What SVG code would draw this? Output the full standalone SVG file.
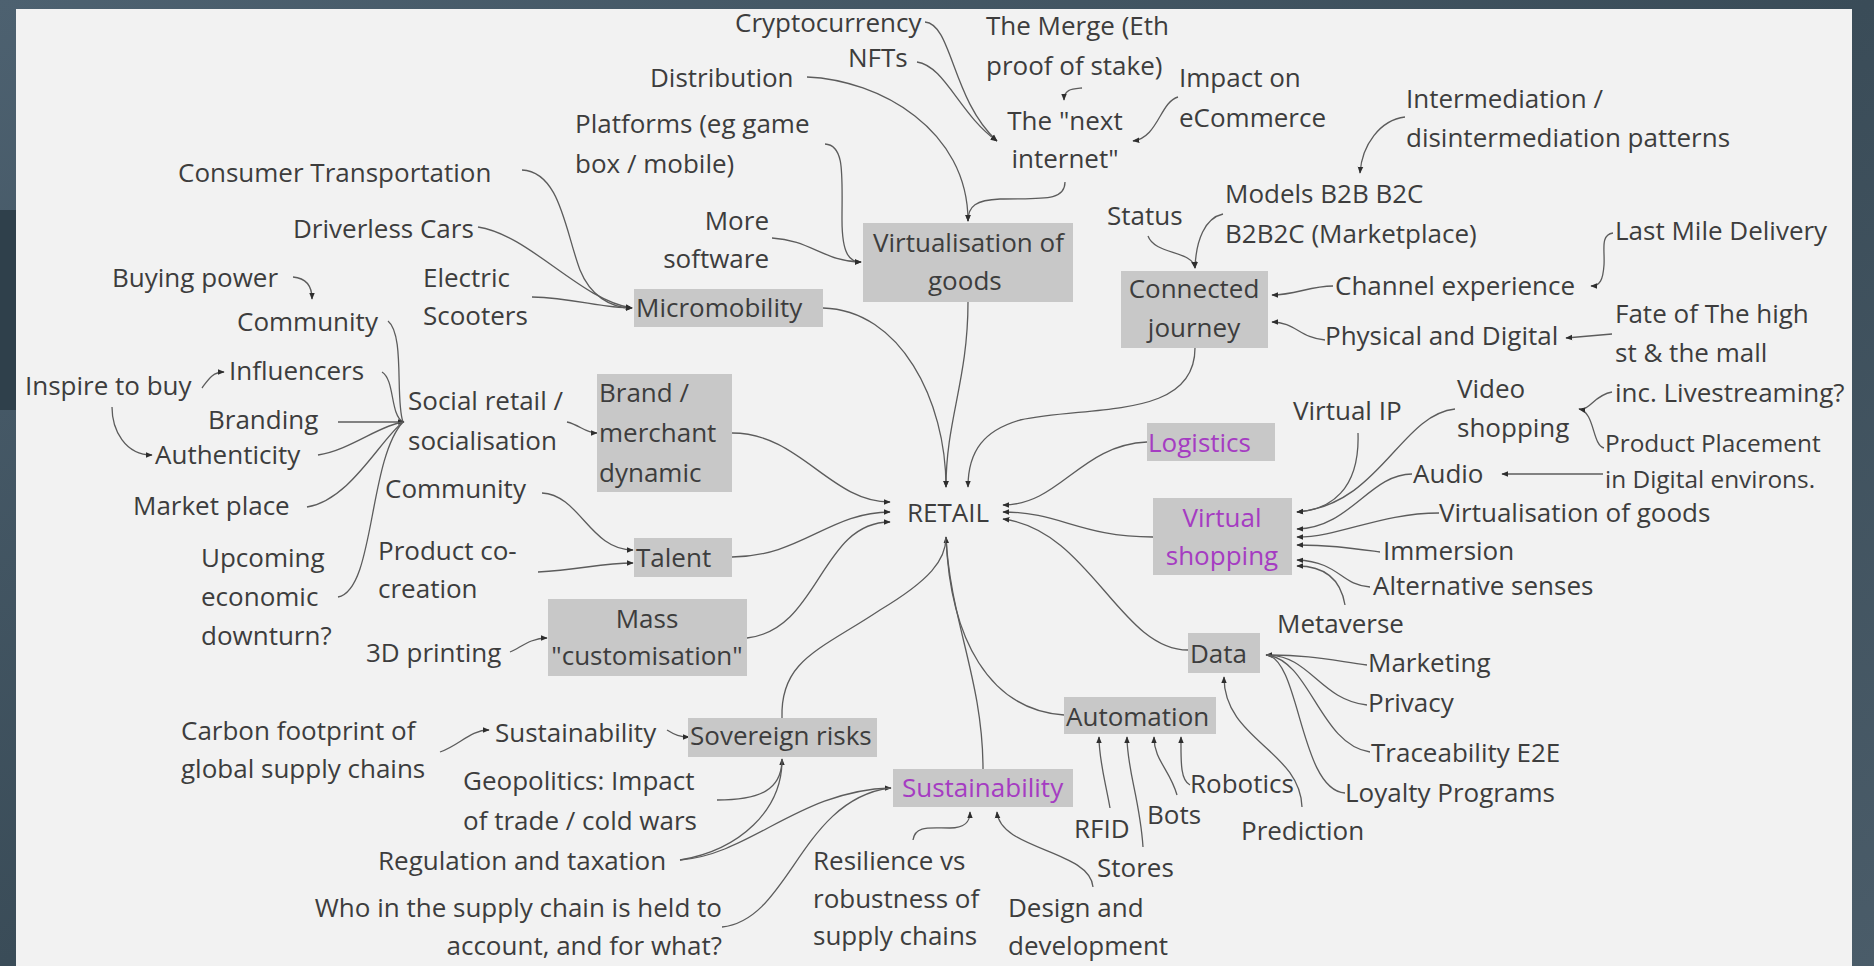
<svg xmlns="http://www.w3.org/2000/svg" width="1874" height="966" viewBox="0 0 1874 966">
<defs>
<linearGradient id="bg" x1="0" y1="0" x2="1" y2="1">
<stop offset="0" stop-color="#4d6170"/><stop offset="0.5" stop-color="#3a4c58"/><stop offset="1" stop-color="#4a5c69"/>
</linearGradient>
<marker id="a" viewBox="0 0 10 10" refX="9" refY="5" markerWidth="7" markerHeight="7" orient="auto" markerUnits="userSpaceOnUse"><path d="M0,1 L10,5 L0,9z" fill="#2e2e2e"/></marker>
</defs>
<style>
text{font-family:"Open Sans","Noto Sans","Liberation Sans",sans-serif;font-size:26px;fill:#3d3d3d}
.p{fill:#a53cc2}
.b{fill:#c8c8c8}
.m{text-anchor:middle}
.e{text-anchor:end}
.s{font-size:24.4px}
#connectors path{fill:none;stroke:#5c5c5c;stroke-width:1.3}
.ar{marker-end:url(#a)}
</style>
<rect width="1874" height="966" fill="url(#bg)"/>
<rect x="0" y="210" width="16" height="200" fill="#2f404b"/>
<rect x="16" y="9" width="1836" height="957" fill="#f2f2f2"/>

<g id="connectors">
<path class="ar" d="M925,22 C952,24 952,100 997,141"/>
<path class="ar" d="M917,62 C945,66 960,115 997,141"/>
<path class="ar" d="M1082,88 C1072,89 1064,89 1064,100"/>
<path class="ar" d="M1178,97 C1160,102 1158,138 1133,141"/>
<path class="ar" d="M1065,182 C1065,202 1040,198 1000,199 C976,200 968,206 968,221"/>
<path class="ar" d="M807,77 C880,80 968,130 968,221"/>
<path class="ar" d="M825,144 C845,145 842,175 842,220 C842,255 850,262 861,262"/>
<path class="ar" d="M772,238 C810,240 825,262 861,262"/>
<path class="ar" d="M522,170 C560,172 565,230 580,270 C590,295 610,308 632,308"/>
<path class="ar" d="M478,227 C530,235 580,300 632,308"/>
<path class="ar" d="M532,297 C575,298 600,308 632,308"/>
<path class="ar" d="M823,308 C900,310 946,400 946,487"/>
<path class="ar" d="M968,302 C968,380 946,420 946,487"/>
<path class="ar" d="M1148,236 C1155,255 1192,250 1195,268"/>
<path class="ar" d="M1223,214 C1205,218 1196,240 1195,268"/>
<path class="ar" d="M1405,117 C1380,120 1362,145 1360,173"/>
<path class="ar" d="M1333,286 C1310,286 1295,295 1272,295"/>
<path class="ar" d="M1613,233 C1600,235 1605,250 1604,265 C1603,280 1600,286 1591,286"/>
<path class="ar" d="M1325,340 C1300,338 1295,322 1272,322"/>
<path class="ar" d="M1612,334 L1566,338"/>
<path class="ar" d="M1195,348 C1195,420 1090,405 1020,420 C985,430 968,450 968,487"/>
<path class="ar" d="M293,277 C305,278 312,285 312,299"/>
<path class="ar" d="M202,388 C208,380 212,372 224,372"/>
<path class="ar" d="M112,407 C112,430 125,455 152,455"/>
<path d="M388,321 C405,335 395,400 403,422"/>
<path d="M382,372 C395,380 390,415 403,422"/>
<path class="ar" d="M338,422 L404,422"/>
<path d="M318,455 C350,450 380,425 403,422"/>
<path d="M307,507 C350,500 380,440 403,422"/>
<path d="M338,597 C375,590 368,460 403,422"/>
<path class="ar" d="M567,422 C580,425 585,433 597,433"/>
<path class="ar" d="M732,433 C800,433 830,502 890,502"/>
<path class="ar" d="M542,493 C580,495 590,550 633,550"/>
<path class="ar" d="M538,572 C580,570 600,563 633,563"/>
<path class="ar" d="M732,557 C800,557 830,512 890,512"/>
<path class="ar" d="M747,638 C820,630 820,522 890,522"/>
<path class="ar" d="M510,652 C520,648 530,638 547,638"/>
<path class="ar" d="M1147,442 C1080,445 1060,505 1003,505"/>
<path class="ar" d="M1153,537 C1080,537 1060,512 1003,512"/>
<path class="ar" d="M1188,650 C1120,650 1090,530 1003,519"/>
<path class="ar" d="M1358,433 C1360,490 1330,510 1297,512"/>
<path class="ar" d="M1455,409 C1400,415 1380,505 1297,512"/>
<path class="ar" d="M1412,474 C1370,474 1350,528 1297,529"/>
<path class="ar" d="M1439,513 C1380,513 1340,537 1297,537"/>
<path class="ar" d="M1380,552 C1350,548 1330,545 1297,545"/>
<path class="ar" d="M1370,587 C1340,585 1340,562 1297,560"/>
<path class="ar" d="M1345,605 C1340,575 1320,566 1297,566"/>
<path d="M1612,392 C1595,395 1590,409 1582,409"/>
<path class="ar" d="M1604,448 C1592,445 1595,412 1579,409"/>
<path class="ar" d="M1603,474 L1502,474"/>
<path class="ar" d="M1367,665 C1330,660 1310,655 1266,655"/>
<path d="M1367,705 C1320,700 1310,655 1267,655"/>
<path d="M1370,752 C1320,745 1310,660 1267,655"/>
<path d="M1345,793 C1300,790 1300,660 1267,655"/>
<path class="ar" d="M1302,807 C1300,750 1224,740 1224,677"/>
<path class="ar" d="M1190,785 C1180,780 1181,760 1181,737"/>
<path class="ar" d="M1177,795 C1170,770 1154,760 1154,737"/>
<path class="ar" d="M1110,808 C1105,780 1099,760 1099,737"/>
<path class="ar" d="M1143,847 C1140,800 1127,770 1127,737"/>
<path d="M1064,715 C990,710 950,640 946,537"/>
<path class="ar" d="M983,769 C983,680 950,620 946,537"/>
<path d="M782,718 C780,660 820,650 880,610 C930,580 946,560 946,537"/>
<path class="ar" d="M440,752 C460,745 470,730 489,730"/>
<path class="ar" d="M667,730 C675,735 680,737 689,737"/>
<path class="ar" d="M717,800 C760,800 782,790 782,759"/>
<path d="M680,860 C740,850 782,810 782,760"/>
<path class="ar" d="M680,860 C750,855 800,790 891,788"/>
<path d="M722,927 C790,920 800,800 890,788"/>
<path class="ar" d="M913,840 C915,825 930,828 950,828 C965,828 970,822 970,812"/>
<path class="ar" d="M1093,887 C1090,850 1000,850 997,812"/>
</g>

<g id="n-crypto"><text x="735" y="32">Cryptocurrency</text></g>
<g id="n-nfts"><text x="848" y="67">NFTs</text></g>
<g id="n-distribution"><text x="650" y="87">Distribution</text></g>
<g id="n-merge"><text x="986" y="35">The Merge (Eth</text><text x="986" y="75">proof of stake)</text></g>
<g id="n-impact"><text x="1179" y="87">Impact on</text><text x="1179" y="127">eCommerce</text></g>
<g id="n-nextinternet"><text class="m" x="1065" y="130">The "next</text><text class="m" x="1065" y="168">internet"</text></g>
<g id="n-intermediation"><text x="1406" y="108">Intermediation /</text><text x="1406" y="147">disintermediation patterns</text></g>
<g id="n-platforms"><text x="575" y="133">Platforms (eg game</text><text x="575" y="173">box / mobile)</text></g>
<g id="n-consumer"><text x="178" y="182">Consumer Transportation</text></g>
<g id="n-models"><text x="1225" y="203">Models B2B B2C</text><text x="1225" y="243">B2B2C (Marketplace)</text></g>
<g id="n-status"><text x="1107" y="225">Status</text></g>
<g id="n-driverless"><text x="293" y="238">Driverless Cars</text></g>
<g id="n-more"><text class="e" x="769" y="230">More</text><text class="e" x="769" y="268">software</text></g>
<g id="n-virtualisation"><rect class="b" x="863" y="223" width="210" height="79"/><text x="873" y="252">Virtualisation of</text><text x="928" y="290">goods</text></g>
<g id="n-micromobility"><rect class="b" x="634" y="289" width="189" height="38"/><text x="636" y="317">Micromobility</text></g>
<g id="n-buying"><text x="112" y="287">Buying power</text></g>
<g id="n-electric"><text x="423" y="287">Electric</text><text x="423" y="325">Scooters</text></g>
<g id="n-connected"><rect class="b" x="1121" y="271" width="147" height="77"/><text class="m" x="1194" y="298">Connected</text><text class="m" x="1194" y="337">journey</text></g>
<g id="n-channel"><text x="1335" y="295">Channel experience</text></g>
<g id="n-lastmile"><text x="1615" y="240">Last Mile Delivery</text></g>
<g id="n-physical"><text x="1325" y="345">Physical and Digital</text></g>
<g id="n-fate"><text x="1615" y="323">Fate of The high</text><text x="1615" y="362">st &amp; the mall</text><text x="1615" y="402">inc. Livestreaming?</text></g>
<g id="n-community1"><text x="237" y="331">Community</text></g>
<g id="n-inspire"><text x="25" y="395">Inspire to buy</text></g>
<g id="n-influencers"><text x="229" y="380">Influencers</text></g>
<g id="n-branding"><text x="208" y="429">Branding</text></g>
<g id="n-authenticity"><text x="155" y="464">Authenticity</text></g>
<g id="n-marketplace"><text x="133" y="515">Market place</text></g>
<g id="n-upcoming"><text x="201" y="567">Upcoming</text><text x="201" y="606">economic</text><text x="201" y="645">downturn?</text></g>
<g id="n-social"><text x="408" y="410">Social retail /</text><text x="408" y="450">socialisation</text></g>
<g id="n-brand"><rect class="b" x="597" y="374" width="135" height="118"/><text x="599" y="402">Brand /</text><text x="599" y="442">merchant</text><text x="599" y="482">dynamic</text></g>
<g id="n-community2"><text x="385" y="498">Community</text></g>
<g id="n-product"><text x="378" y="560">Product co-</text><text x="378" y="598">creation</text></g>
<g id="n-talent"><rect class="b" x="634" y="538" width="98" height="39"/><text x="636" y="567">Talent</text></g>
<g id="n-mass"><rect class="b" x="548" y="599" width="199" height="77"/><text class="m" x="647" y="628">Mass</text><text class="m" x="647" y="665">"customisation"</text></g>
<g id="n-3d"><text x="366" y="662">3D printing</text></g>
<g id="n-retail"><text x="907" y="522">RETAIL</text></g>
<g id="n-logistics"><rect class="b" x="1147" y="423" width="128" height="38"/><text class="p" x="1148" y="452">Logistics</text></g>
<g id="n-virtualip"><text x="1293" y="420">Virtual IP</text></g>
<g id="n-video"><text x="1457" y="398">Video</text><text x="1457" y="437">shopping</text></g>
<g id="n-placement"><text class="s" x="1605" y="452">Product Placement</text><text class="s" x="1605" y="488">in Digital environs.</text></g>
<g id="n-audio"><text x="1413" y="483">Audio</text></g>
<g id="n-virtualshopping"><rect class="b" x="1153" y="498" width="139" height="77"/><text class="m p" x="1222" y="527">Virtual</text><text class="m p" x="1222" y="565">shopping</text></g>
<g id="n-virtgoods"><text x="1439" y="522">Virtualisation of goods</text></g>
<g id="n-immersion"><text x="1383" y="560">Immersion</text></g>
<g id="n-senses"><text x="1373" y="595">Alternative senses</text></g>
<g id="n-metaverse"><text x="1277" y="633">Metaverse</text></g>
<g id="n-data"><rect class="b" x="1188" y="633" width="72" height="40"/><text x="1190" y="663">Data</text></g>
<g id="n-marketing"><text x="1368" y="672">Marketing</text></g>
<g id="n-privacy"><text x="1368" y="712">Privacy</text></g>
<g id="n-traceability"><text x="1371" y="762">Traceability E2E</text></g>
<g id="n-loyalty"><text x="1345" y="802">Loyalty Programs</text></g>
<g id="n-automation"><rect class="b" x="1064" y="697" width="152" height="37"/><text x="1066" y="726">Automation</text></g>
<g id="n-robotics"><text x="1190" y="793">Robotics</text></g>
<g id="n-bots"><text x="1147" y="824">Bots</text></g>
<g id="n-rfid"><text x="1074" y="838">RFID</text></g>
<g id="n-stores"><text x="1097" y="877">Stores</text></g>
<g id="n-prediction"><text x="1241" y="840">Prediction</text></g>
<g id="n-sovereign"><rect class="b" x="688" y="718" width="189" height="39"/><text x="690" y="745">Sovereign risks</text></g>
<g id="n-sust1"><text x="495" y="742">Sustainability</text></g>
<g id="n-carbon"><text x="181" y="740">Carbon footprint of</text><text x="181" y="778">global supply chains</text></g>
<g id="n-geopolitics"><text x="463" y="790">Geopolitics: Impact</text><text x="463" y="830">of trade / cold wars</text></g>
<g id="n-regulation"><text x="378" y="870">Regulation and taxation</text></g>
<g id="n-who"><text class="e" x="722" y="917">Who in the supply chain is held to</text><text class="e" x="722" y="955">account, and for what?</text></g>
<g id="n-sustainability"><rect class="b" x="893" y="769" width="180" height="38"/><text class="p" x="902" y="797">Sustainability</text></g>
<g id="n-resilience"><text x="813" y="870">Resilience vs</text><text x="813" y="908">robustness of</text><text x="813" y="945">supply chains</text></g>
<g id="n-design"><text x="1008" y="917">Design and</text><text x="1008" y="955">development</text></g>
</svg>
